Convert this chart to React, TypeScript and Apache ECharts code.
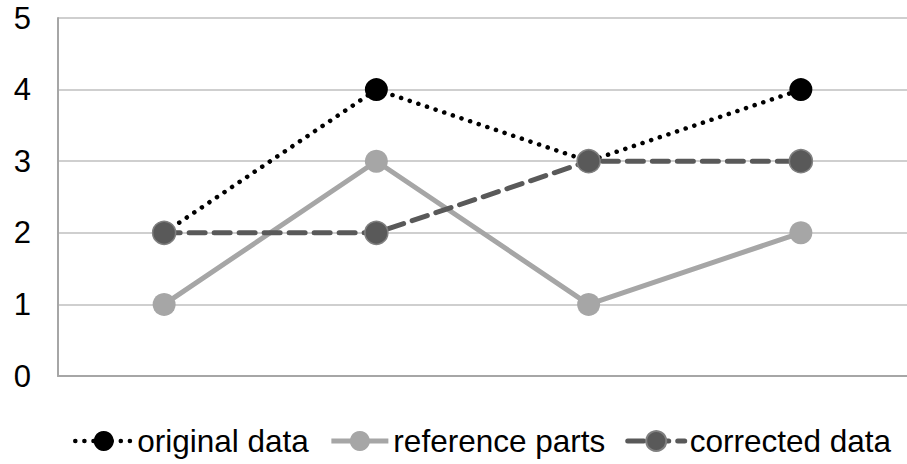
import React, { useEffect, useRef } from "react";
import * as echarts from "echarts";

const categories = ["A", "B", "C", "D"];
const originalData = [2, 4, 3, 4];
const referenceParts = [1, 3, 1, 2];
const correctedData = [2, 2, 3, 3];
const yTicks = [0, 1, 2, 3, 4, 5];
const seriesNames = ["original data", "reference parts", "corrected data"];

export default function App() {
  const ref = useRef<HTMLDivElement>(null);
  useEffect(() => {
    if (!ref.current) return;
    const chart = echarts.init(ref.current, undefined, { renderer: "svg" });
    const font = "Arial, 'Liberation Sans', sans-serif";
    const dotted = { color: "#000", width: 4.5, type: [0.1, 9], cap: "round" };
    const solid = { color: "#a6a6a6", width: 5, type: "solid" };
    const dashed = { color: "#595959", width: 5, type: [16, 9], cap: "round" };
    chart.setOption({
      animation: false,
      grid: { left: 58, right: 0, top: 18, bottom: 88, containLabel: false },
      xAxis: {
        type: "category",
        data: categories,
        boundaryGap: true,
        axisLine: { show: true, lineStyle: { color: "#a6a6a6", width: 2 } },
        axisTick: { show: false },
        axisLabel: { show: false },
      },
      yAxis: {
        type: "value",
        min: yTicks[0],
        max: yTicks[yTicks.length - 1],
        interval: 1,
        axisLine: { show: true, lineStyle: { color: "#a6a6a6", width: 2 } },
        axisTick: { show: false },
        axisLabel: { color: "#000", fontSize: 31, fontFamily: font, margin: 27 },
        splitLine: { show: true, lineStyle: { color: "#cfcfcf", width: 2 } },
      },
      legend: {
        bottom: 2,
        left: 68,
        width: 839,
        itemWidth: 57,
        itemHeight: 25,
        itemGap: 20,
        textStyle: { color: "#000", fontSize: 31.5, fontFamily: font },
        data: [
          { name: seriesNames[0], lineStyle: dotted },
          { name: seriesNames[1], lineStyle: solid },
          { name: seriesNames[2], lineStyle: dashed },
        ],
      },
      series: [
        {
          name: seriesNames[0],
          type: "line",
          data: originalData,
          symbol: "circle",
          symbolSize: 23,
          lineStyle: dotted,
          itemStyle: { color: "#000" },
        },
        {
          name: seriesNames[1],
          type: "line",
          data: referenceParts,
          symbol: "circle",
          symbolSize: 23,
          lineStyle: solid,
          itemStyle: { color: "#a6a6a6" },
        },
        {
          name: seriesNames[2],
          type: "line",
          data: correctedData,
          symbol: "circle",
          symbolSize: 23,
          lineStyle: dashed,
          itemStyle: { color: "#595959", borderColor: "#808080", borderWidth: 1.5 },
        },
      ],
    });
    return () => chart.dispose();
  }, []);
  return <div ref={ref} style={{ width: 907, height: 464, position: "absolute", left: 0, top: 0 }} />;
}
